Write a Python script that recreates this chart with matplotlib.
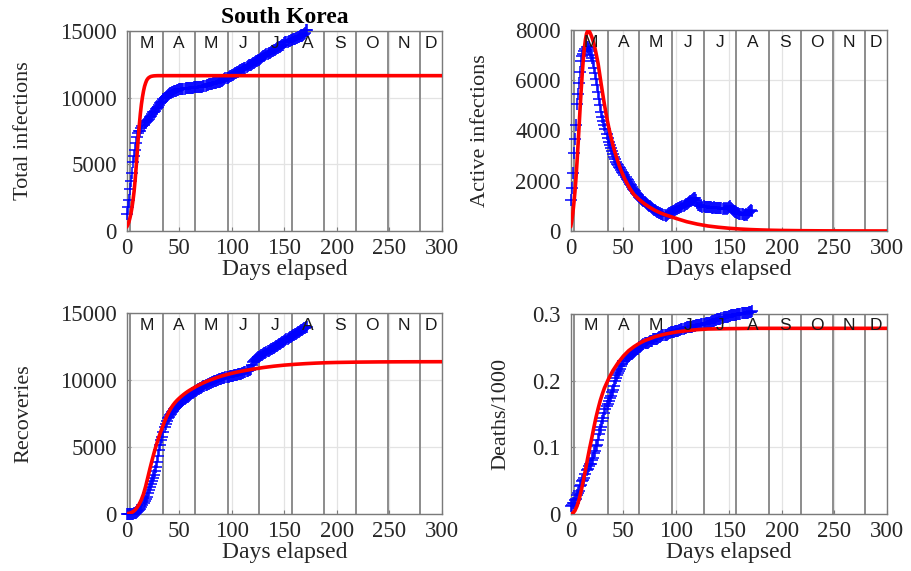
import numpy as np
import matplotlib
matplotlib.use("Agg")
import matplotlib.pyplot as plt

# ---------------- data ----------------
country = "South Korea"
month_letters = ["M", "A", "M", "J", "J", "A", "S", "O", "N", "D"]
month_bounds = [3, 35, 65, 96, 126, 157, 188, 218, 249, 279]

total_obs = [
    1261, 1766, 2337, 3150, 3736, 4335, 5186, 5621, 6088, 6593,
    7041, 7314, 7478, 7513, 7755, 7869, 7979, 8086, 8162, 8236,
    8320, 8413, 8565, 8652, 8799, 8897, 8961, 9037, 9137, 9241,
    9332, 9478, 9583, 9661, 9786, 9887, 9976, 10062, 10156, 10237,
    10284, 10331, 10384, 10423, 10450, 10480, 10512, 10537, 10564, 10591,
    10613, 10635, 10653, 10661, 10674, 10683, 10694, 10702, 10708, 10718,
    10728, 10738, 10752, 10761, 10765, 10774, 10780, 10793, 10801, 10804,
    10806, 10810, 10822, 10840, 10874, 10909, 10936, 10962, 10991, 11018,
    11037, 11050, 11065, 11078, 11110, 11122, 11142, 11165, 11190, 11206,
    11225, 11265, 11344, 11402, 11441, 11468, 11503, 11541, 11590, 11629,
    11668, 11719, 11776, 11814, 11852, 11902, 11947, 12003, 12051, 12085,
    12121, 12155, 12198, 12257, 12306, 12373, 12421, 12438, 12484, 12535,
    12563, 12602, 12653, 12715, 12757, 12800, 12850, 12904, 12967, 13030,
    13091, 13137, 13181, 13244, 13293, 13338, 13373, 13417, 13479, 13512,
    13551, 13612, 13672, 13711, 13745, 13771, 13816, 13879, 13938, 13979,
    14092, 14150, 14175, 14203, 14251, 14269, 14305, 14336, 14366, 14389,
    14423, 14456, 14499, 14519, 14562, 14598, 14626, 14660, 14714, 14770,
    14873, 15039, 15100,
]

active_obs = [
    1230, 1720, 2290, 3090, 3650, 4230, 5060, 5460, 5880, 6330,
    6770, 6950, 7030, 7180, 7250, 7330, 7310, 7260, 7150, 7020,
    6900, 6750, 6500, 6280, 6050, 5800, 5550, 5270, 5000, 4750,
    4550, 4380, 4220, 4050, 3860, 3690, 3560, 3430, 3290, 3180,
    3070, 2960, 2850, 2740, 2680, 2630, 2560, 2490, 2420, 2360,
    2300, 2230, 2150, 2080, 2020, 1960, 1890, 1820, 1750, 1690,
    1630, 1580, 1530, 1470, 1420, 1370, 1330, 1270, 1230, 1180,
    1140, 1110, 1080, 1050, 1010, 980, 940, 910, 880, 850,
    820, 790, 770, 740, 720, 700, 680, 660, 640, 630,
    610, 620, 660, 700, 720, 740, 760, 790, 810, 840,
    860, 880, 900, 920, 940, 960, 980, 1000, 1030, 1060,
    1090, 1120, 1150, 1180, 1210, 1240, 1270, 1300, 1320, 1250,
    1120, 1050, 1030, 1000, 990, 970, 980, 960, 950, 960,
    950, 940, 960, 940, 930, 930, 940, 920, 930, 920,
    910, 900, 910, 900, 890, 900, 880, 900, 890, 920,
    960, 980, 930, 870, 840, 800, 770, 750, 720, 700,
    690, 680, 670, 660, 650, 640, 660, 640, 700, 750,
    800, 830, 810,
]

recov_obs = [
    20, 22, 25, 26, 28, 30, 35, 40, 60, 90,
    120, 250, 300, 350, 500, 700, 830, 1000, 1150, 1300,
    1550, 1800, 2040, 2250, 2450, 2660, 2900, 3200, 3530, 3900,
    4300, 4780, 5150, 5500, 5770, 6100, 6500, 6750, 6950, 7150,
    7260, 7380, 7500, 7620, 7710, 7800, 7880, 7960, 8040, 8120,
    8200, 8280, 8350, 8420, 8490, 8560, 8630, 8700, 8760, 8820,
    8880, 8940, 9000, 9050, 9100, 9150, 9200, 9250, 9300, 9350,
    9400, 9440, 9480, 9520, 9560, 9600, 9640, 9680, 9720, 9760,
    9800, 9830, 9860, 9890, 9920, 9950, 9980, 10010, 10040, 10070,
    10110, 10130, 10150, 10170, 10190, 10210, 10230, 10250, 10270, 10290,
    10310, 10330, 10350, 10370, 10390, 10410, 10420, 10440, 10460, 10480,
    10500, 10530, 10560, 10600, 10640, 10680, 10720, 10760, 10800, 11100,
    11370, 11450, 11520, 11580, 11640, 11690, 11740, 11790, 11840, 11890,
    11940, 11990, 12040, 12090, 12140, 12190, 12240, 12290, 12340, 12370,
    12420, 12470, 12520, 12570, 12620, 12670, 12720, 12770, 12820, 12870,
    12920, 12990, 13040, 13090, 13140, 13190, 13240, 13290, 13340, 13390,
    13430, 13470, 13520, 13570, 13610, 13660, 13710, 13760, 13810, 13860,
    13900, 13940, 13980,
]

deaths_obs = [
    0.012, 0.013, 0.016, 0.017, 0.021, 0.022, 0.028, 0.032, 0.035, 0.042,
    0.044, 0.050, 0.051, 0.054, 0.060, 0.066, 0.067, 0.072, 0.075, 0.075,
    0.081, 0.084, 0.091, 0.094, 0.102, 0.104, 0.111, 0.120, 0.126, 0.131,
    0.139, 0.144, 0.152, 0.158, 0.162, 0.165, 0.169, 0.174, 0.177, 0.183,
    0.186, 0.192, 0.200, 0.204, 0.208, 0.211, 0.214, 0.217, 0.222, 0.225,
    0.229, 0.230, 0.232, 0.234, 0.236, 0.237, 0.238, 0.240, 0.240, 0.242,
    0.243, 0.244, 0.246, 0.247, 0.248, 0.250, 0.250, 0.252, 0.254, 0.255,
    0.256, 0.256, 0.256, 0.256, 0.258, 0.259, 0.260, 0.260, 0.262, 0.263,
    0.263, 0.263, 0.263, 0.264, 0.266, 0.266, 0.267, 0.269, 0.269, 0.269,
    0.269, 0.269, 0.270, 0.271, 0.272, 0.273, 0.273, 0.273, 0.273, 0.274,
    0.274, 0.275, 0.275, 0.276, 0.276, 0.277, 0.277, 0.278, 0.279, 0.279,
    0.280, 0.280, 0.281, 0.281, 0.281, 0.281, 0.282, 0.282, 0.282, 0.283,
    0.283, 0.283, 0.284, 0.284, 0.285, 0.285, 0.285, 0.285, 0.286, 0.286,
    0.286, 0.287, 0.287, 0.288, 0.289, 0.290, 0.290, 0.291, 0.291, 0.292,
    0.292, 0.293, 0.293, 0.294, 0.294, 0.295, 0.295, 0.296, 0.296, 0.296,
    0.297, 0.297, 0.298, 0.298, 0.298, 0.299, 0.299, 0.299, 0.300, 0.300,
    0.300, 0.300, 0.301, 0.301, 0.301, 0.302, 0.302, 0.302, 0.302, 0.303,
    0.303, 0.303, 0.304,
]

# model (fitted) curves
total_model_days = list(range(0, 31)) + [40, 60, 100, 200, 300]
total_model = [
    300, 450, 650, 950, 1300, 1750, 2300, 2950, 3800, 4800,
    5900, 7000, 7950, 8800, 9500, 10050, 10500, 10850, 11100, 11300,
    11420, 11500, 11550, 11590, 11610, 11625, 11635, 11640, 11645, 11648,
    11650, 11650, 11650, 11650, 11650, 11650,
]

active_model_days = (list(range(0, 31)) + list(range(32, 61, 2))
                     + list(range(65, 101, 5)) + list(range(110, 201, 10))
                     + list(range(220, 301, 20)))
active_model = [
    170, 400, 700, 1100, 1550, 2100, 2750, 3450, 4200, 4950,
    5650, 6300, 6850, 7300, 7620, 7850, 7960, 7980, 7920, 7830,
    7720, 7600, 7450, 7280, 7080, 6870, 6660, 6380, 6100, 5820,
    5550,
    5030, 4560, 4140, 3770, 3430, 3130, 2860, 2610, 2390, 2190,
    2010, 1850, 1700, 1570, 1450,
    1250, 1080, 940, 820, 720, 640, 570, 500,
    370, 275, 200, 150, 110, 80, 58, 42, 30, 22,
    12, 6, 3, 2, 1,
]

recov_model_days = (list(range(0, 61, 2)) + list(range(65, 121, 5))
                    + list(range(130, 201, 10)) + list(range(220, 301, 20)))
recov_model = [
    30, 50, 90, 170, 300, 500, 750, 1080, 1500, 2050,
    2700, 3350, 3970, 4560, 5100, 5600, 6060, 6480, 6900, 7270,
    7600, 7880, 8120, 8320, 8490, 8640, 8780, 8910, 9030, 9140,
    9240,
    9470, 9680, 9860, 10020, 10160, 10290, 10400, 10500, 10590, 10670,
    10740, 10810,
    10930, 11030, 11110, 11170, 11220, 11260, 11290, 11310,
    11335, 11350, 11358, 11362, 11365,
]

deaths_model_days = (list(range(0, 41, 2)) + list(range(45, 101, 5))
                     + [110, 120, 130, 150, 175, 200, 250, 300])
deaths_model = [
    0.000, 0.001, 0.005, 0.012, 0.022, 0.035, 0.050, 0.066, 0.083, 0.099,
    0.114, 0.130, 0.145, 0.158, 0.170, 0.180, 0.189, 0.196, 0.203, 0.209,
    0.215,
    0.227, 0.237, 0.245, 0.251, 0.256, 0.260, 0.263, 0.266, 0.268, 0.270,
    0.2715, 0.273,
    0.275, 0.2765, 0.2775, 0.278, 0.2785, 0.2785, 0.2785, 0.2785,
]

# ---------------- styling ----------------
SERIF = ["Liberation Serif", "DejaVu Serif"]
SANS = ["Liberation Sans", "DejaVu Sans"]
plt.rcParams["font.family"] = SERIF

W, H = 912, 571
fig = plt.figure(figsize=(W / 100, H / 100), dpi=100)


def px_axes(l, t, r, b):
    return fig.add_axes([l / W, 1 - b / H, (r - l) / W, (b - t) / H])


panels = [
    dict(rect=(126.7, 31, 442, 231), obs=total_obs, mdays=total_model_days,
         model=total_model, ylim=(0, 15000), yticks=[0, 5000, 10000, 15000],
         ylabel="Total infections", lx=-0.297, fmt="{:d}"),
    dict(rect=(570.7, 30, 887, 231), obs=active_obs, mdays=active_model_days,
         model=active_model, ylim=(0, 8000), yticks=[0, 2000, 4000, 6000, 8000],
         ylabel="Active infections", lx=-0.255, fmt="{:d}"),
    dict(rect=(126.7, 313, 442, 514), obs=recov_obs, mdays=recov_model_days,
         model=recov_model, ylim=(0, 15000), yticks=[0, 5000, 10000, 15000],
         ylabel="Recoveries", lx=-0.297, fmt="{:d}"),
    dict(rect=(570.7, 314, 887, 514), obs=deaths_obs, mdays=deaths_model_days,
         model=deaths_model, ylim=(0, 0.3), yticks=[0, 0.1, 0.2, 0.3],
         ylabel="Deaths/1000", lx=-0.19, fmt="{:g}"),
]

edge = "#7a7a7a"
month_mid = [(a + b) / 2 for a, b in zip(month_bounds, month_bounds[1:] + [300])]

for i, p in enumerate(panels):
    ax = px_axes(*p["rect"])
    ax.set_xlim(0, 300)
    ax.set_ylim(*p["ylim"])
    ax.set_xticks(np.arange(0, 301, 50))
    ax.set_yticks(p["yticks"])
    ax.set_yticklabels([p["fmt"].format(v) for v in p["yticks"]])
    ax.grid(True, color="#e3e3e3", linewidth=0.9, zorder=0)
    ax.set_axisbelow(True)
    for s in ax.spines.values():
        s.set_color(edge)
        s.set_linewidth(1.0)
    ax.tick_params(direction="in", length=3, width=0.8, color=edge,
                   labelsize=16.5, labelcolor="#262626")
    ax.tick_params(axis="x", pad=5)
    ax.tick_params(axis="y", pad=7)

    for mb in month_bounds:
        ax.axvline(mb, color="#8c8c8c", linewidth=1.4, zorder=1)
    for mm, lab in zip(month_mid, month_letters):
        ax.text(mm, 0.94, lab, transform=ax.get_xaxis_transform(),
                ha="center", va="center", fontsize=12.5, family=SANS,
                color="#1a1a1a", zorder=5)

    x_obs = np.arange(len(p["obs"]))
    ax.plot(x_obs, p["obs"], linestyle="none", marker="+", markersize=8,
            markeredgewidth=1.1, color="#0000ff", zorder=3, clip_on=False)
    ax.plot(p["mdays"], p["model"], color="#ff0000", linewidth=2.6,
            zorder=4, solid_capstyle="round")

    ax.set_xlabel("Days elapsed", fontsize=17, labelpad=0, color="#262626")
    ax.set_ylabel(p["ylabel"], fontsize=16, color="#262626")
    ax.yaxis.set_label_coords(p["lx"], 0.5)
    if i == 0:
        ax.set_title(country, fontsize=17, fontweight="bold", pad=6)

fig.savefig("out.png", dpi=100)
